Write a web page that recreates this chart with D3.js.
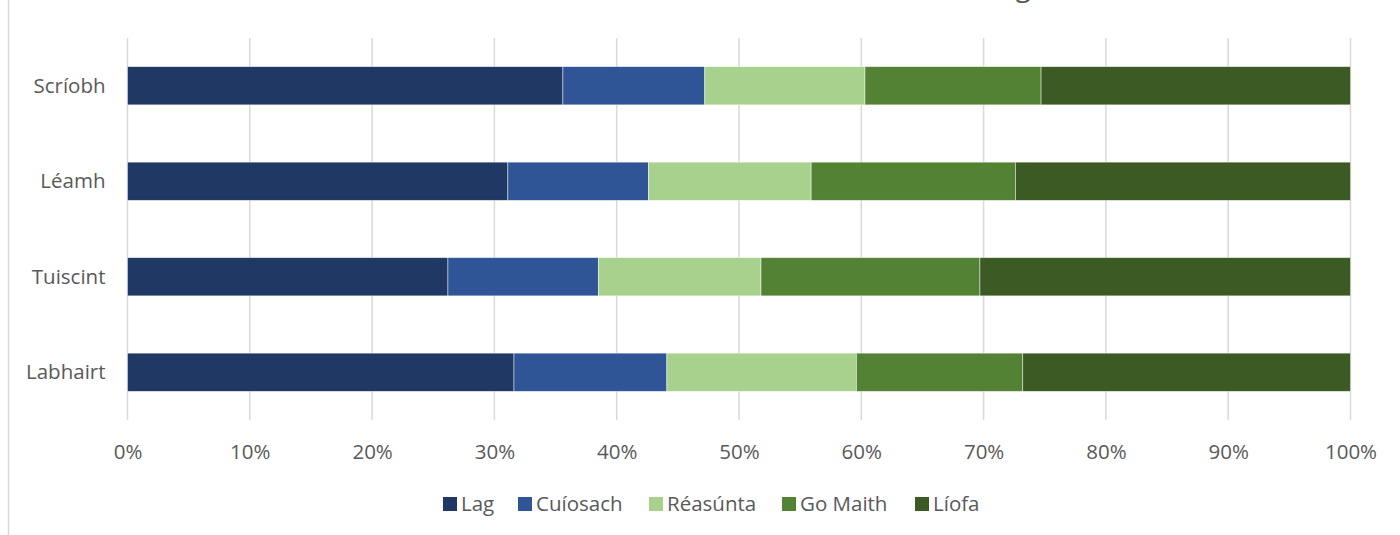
<!DOCTYPE html>
<html>
<head>
<meta charset="utf-8">
<script src="https://cdn.jsdelivr.net/npm/d3@7"></script>
<style>
  html, body { margin: 0; padding: 0; background: #fff; overflow: hidden; }
  svg { display: block; font-family: "Open Sans", "Noto Sans", sans-serif; }
</style>
</head>
<body>
<svg id="chart" width="1400" height="535"></svg>
<script>
const titleText = "Féinmheasúnú ar chumas: Labhairt, Tuiscint, Léamh agus Scríobh";
const categories = ["Scríobh", "Léamh", "Tuiscint", "Labhairt"];
const seriesNames = ["Lag", "Cuíosach", "Réasúnta", "Go Maith", "Líofa"];
const lag      = [35.6, 31.1, 26.2, 31.6];
const cuiosach = [11.6, 11.5, 12.3, 12.5];
const reasunta = [13.1, 13.3, 13.3, 15.5];
const goMaith  = [14.4, 16.7, 17.9, 13.6];
const liofa    = [25.3, 27.4, 30.3, 26.8];
const tickValues = [0, 0.1, 0.2, 0.3, 0.4, 0.5, 0.6, 0.7, 0.8, 0.9, 1.0];
const colors = ["#203864", "#2F5597", "#A9D18E", "#548235", "#3B5A24"];

const seriesValues = [lag, cuiosach, reasunta, goMaith, liofa];
const rows = categories.map((c, i) => {
  const r = { cat: c };
  const total = d3.sum(seriesValues, s => s[i]);
  seriesNames.forEach((n, j) => r[n] = seriesValues[j][i] / total);
  return r;
});
const stacked = d3.stack().keys(seriesNames)(rows);

const svg = d3.select("#chart");
const W = 1400, H = 535;
const plot = { left: 127.5, right: 1350.5, top: 38, bottom: 420 };

// outer chart border (left edge visible)
svg.append("line").attr("x1", 8.5).attr("x2", 8.5).attr("y1", 0).attr("y2", H)
  .attr("stroke", "#d9d9d9").attr("stroke-width", 1.5);

// title (mostly above the visible area, as in the reference)
svg.append("text").attr("x", 740).attr("y", -4).attr("text-anchor", "middle")
  .attr("font-size", 28).attr("fill", "#595959").text(titleText);

const x = d3.scaleLinear().domain([0, 1]).range([plot.left, plot.right]);
const y = d3.scaleBand().domain(categories).range([plot.top, plot.bottom]).paddingInner(0.6).paddingOuter(0.3);

// gridlines
svg.append("g").selectAll("line").data(tickValues).join("line")
  .attr("x1", d => x(d)).attr("x2", d => x(d))
  .attr("y1", plot.top).attr("y2", plot.bottom)
  .attr("stroke", "#d9d9d9").attr("stroke-width", 1.5);

// bars
svg.append("g").selectAll("g").data(stacked).join("g")
  .attr("fill", (d, i) => colors[i])
  .selectAll("rect").data(d => d).join("rect")
  .attr("x", d => x(d[0]))
  .attr("width", d => x(d[1]) - x(d[0]))
  .attr("y", d => y(d.data.cat))
  .attr("height", y.bandwidth())
  .attr("stroke", "#ffffff").attr("stroke-opacity", 0.6).attr("stroke-width", 0.75);

// x axis
const xAxis = d3.axisBottom(x).tickValues(tickValues).tickFormat(d3.format(".0%")).tickSize(0).tickPadding(0);
const gx = svg.append("g").attr("transform", `translate(0,${plot.bottom})`).call(xAxis);
gx.select(".domain").remove();
gx.selectAll("text").attr("font-size", 20.5).attr("fill", "#595959")
  .attr("font-family", "'Open Sans', 'Noto Sans', sans-serif")
  .attr("dy", "0.35em").attr("y", 32);

// y axis
const yAxis = d3.axisLeft(y).tickSize(0).tickPadding(0);
const gy = svg.append("g").attr("transform", `translate(${plot.left},0)`).call(yAxis);
gy.select(".domain").remove();
gy.selectAll("text").attr("font-size", 20.5).attr("fill", "#595959")
  .attr("font-family", "'Open Sans', 'Noto Sans', sans-serif")
  .attr("x", -22).attr("dy", "0.35em");

// legend
const legendX = [443, 518, 649, 782, 915];
const lg = svg.append("g").selectAll("g").data(seriesNames).join("g")
  .attr("transform", (d, i) => `translate(${legendX[i]},504)`);
lg.append("rect").attr("x", 0).attr("y", -7).attr("width", 14).attr("height", 14)
  .attr("fill", (d, i) => colors[i]);
lg.append("text").attr("x", 18).attr("y", 0).attr("dy", "0.35em")
  .attr("font-size", 20.5).attr("fill", "#595959").text(d => d);
</script>
</body>
</html>
